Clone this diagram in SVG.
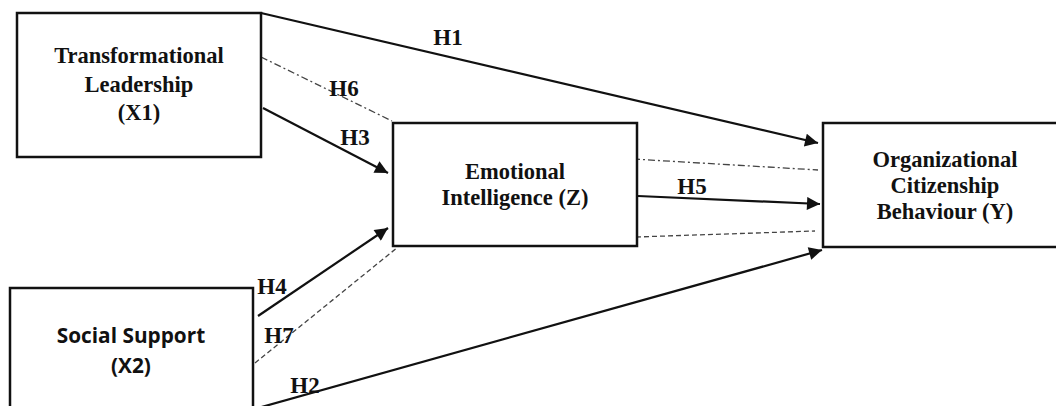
<svg xmlns="http://www.w3.org/2000/svg" width="1056" height="406" viewBox="0 0 1056 406">
<style>
.box{fill:#fff;stroke:#111;stroke-width:2.5}
.t{font-family:"Liberation Serif","Times New Roman",serif;font-weight:bold;font-size:22.5px;fill:#111;text-anchor:middle}
.s{font-family:"Open Sans","Liberation Sans",sans-serif;font-weight:bold;font-size:20.8px;fill:#111;text-anchor:middle}
.h{font-family:"Liberation Serif","Times New Roman",serif;font-weight:bold;font-size:23px;fill:#111;text-anchor:middle}
.solid{stroke:#111;stroke-width:2.2;fill:none}
.dashdot{stroke:#444;stroke-width:1.3;fill:none;stroke-dasharray:7 3 2 3}
.dash{stroke:#444;stroke-width:1.3;fill:none;stroke-dasharray:5 3}
</style>
<defs>
<marker id="arrb" viewBox="0 0 10 10" refX="10" refY="5" markerWidth="16" markerHeight="13" markerUnits="userSpaceOnUse" orient="auto">
<path d="M0,0 L10,5 L0,10 z" fill="#111"/>
</marker>
</defs>
<g id="connectors">
<line class="solid" x1="261" y1="13" x2="818" y2="143" marker-end="url(#arrb)"/>
<line class="dashdot" x1="261" y1="57" x2="392" y2="121"/>
<line class="solid" x1="263" y1="108" x2="388" y2="173" marker-end="url(#arrb)"/>
<line class="solid" x1="638" y1="196" x2="820" y2="204" marker-end="url(#arrb)"/>
<line class="dashdot" x1="633" y1="159" x2="818" y2="170"/>
<line class="dash" x1="636" y1="237" x2="815" y2="231"/>
<line class="solid" x1="258" y1="408" x2="822" y2="250" marker-end="url(#arrb)"/>
<line class="solid" x1="258" y1="316" x2="388" y2="228" marker-end="url(#arrb)"/>
<line class="dash" x1="255" y1="363" x2="398" y2="247"/>
<text class="h" x="448" y="45">H1</text>
<text class="h" x="344" y="96">H6</text>
<text class="h" x="355" y="145">H3</text>
<text class="h" x="692" y="194">H5</text>
<text class="h" x="272" y="294">H4</text>
<text class="h" x="279" y="343">H7</text>
<text class="h" x="305" y="393">H2</text>
</g>
<g id="x1">
<rect class="box" x="17" y="13" width="244" height="144"/>
<text class="t" x="139" y="63">Transformational</text>
<text class="t" x="139" y="92">Leadership</text>
<text class="t" x="139" y="120">(X1)</text>
</g>
<g id="z">
<rect class="box" x="393" y="123" width="244" height="123"/>
<text class="t" x="515" y="179">Emotional</text>
<text class="t" x="515" y="205">Intelligence (Z)</text>
</g>
<g id="y">
<rect class="box" x="823" y="123" width="250" height="124"/>
<text class="t" x="945" y="167">Organizational</text>
<text class="t" x="945" y="193">Citizenship</text>
<text class="t" x="945" y="219">Behaviour (Y)</text>
</g>
<g id="x2">
<rect class="box" x="10" y="288" width="243" height="140"/>
<text class="s" x="131" y="343">Social Support</text>
<text class="s" x="131" y="373">(X2)</text>
</g>
</svg>
